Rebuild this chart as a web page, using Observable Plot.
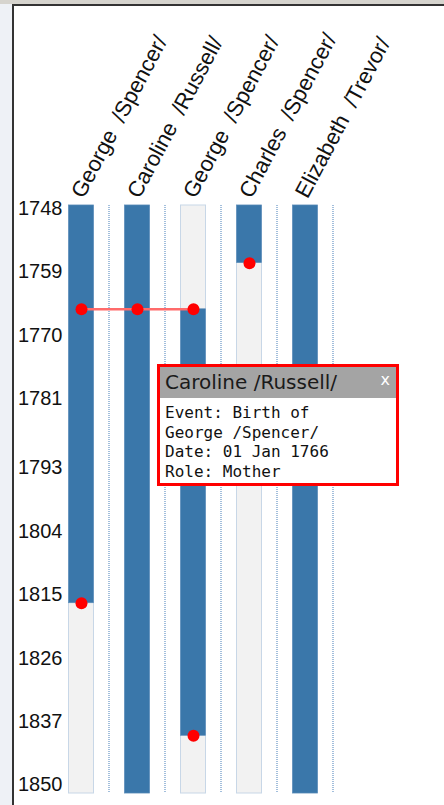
<!DOCTYPE html>
<html><head><meta charset="utf-8">
<script src="https://cdn.jsdelivr.net/npm/d3@7"></script>
<script src="https://cdn.jsdelivr.net/npm/@observablehq/plot@0.6"></script>
<style>
html,body{margin:0;padding:0;width:444px;height:805px;overflow:hidden;background:#eef1f6;}
#topstrip{position:absolute;left:0;top:0;width:444px;height:4px;background:#d6d4ce;}
#frame{position:absolute;left:12px;top:4px;width:430px;height:801px;border-left:2px solid #333;border-top:2px solid #333;background:#fff;}
#chart{position:absolute;left:0;top:0;}
#chart text{white-space:pre;}
#tip{position:absolute;left:157px;top:364px;width:236px;height:116px;border:3px solid #f00;background:#fff;}
#tip .hd{height:31px;background:#a4a4a4;color:#1a1a1a;font-family:"DejaVu Sans";font-size:20px;line-height:31px;padding-left:5px;position:relative;white-space:nowrap;}
#tip .x{position:absolute;right:6px;top:-3px;color:#fff;font-size:16px;}
#tip .bd{padding:5px 0 0 5px;font-family:"DejaVu Sans Mono";font-size:16px;line-height:19.5px;color:#111;white-space:nowrap;}
</style></head>
<body>
<div id="topstrip"></div>
<div id="frame"></div>
<div id="chart"></div>
<div id="tip"><div class="hd">Caroline /Russell/<span class="x">x</span></div>
<div class="bd">Event: Birth of<br>George /Spencer/<br>Date: 01 Jan 1766<br>Role: Mother</div></div>
<script>
const people = ["George  /Spencer/", "Caroline  /Russell/", "George  /Spencer/", "Charles  /Spencer/", "Elizabeth  /Trevor/"];
const lifeStart = [1748, 1748, 1766, 1748, 1748];
const lifeEnd = [1817, 1850, 1840, 1758, 1850];
const eventCol = [0, 1, 2, 0, 2, 3];
const eventYear = [1766, 1766, 1766, 1817, 1840, 1758];
const linkFrom = [0], linkTo = [2], linkYear = [1766];
const tickLabels = [1748, 1759, 1770, 1781, 1793, 1804, 1815, 1826, 1837, 1850];
const yearRange = [1748, 1850];

const cols = people.map((_, i) => i);
const events = eventCol.map((_, i) => i);
const links = linkFrom.map((_, i) => i);

const chart = Plot.plot({
  width: 444,
  height: 805,
  marginLeft: 53,
  marginRight: 111,
  marginTop: 205,
  marginBottom: 12,
  style: {background: "transparent", fontFamily: "Liberation Sans, Arial, sans-serif", overflow: "visible"},
  x: {type: "band", domain: cols, padding: 0, axis: null},
  y: {domain: yearRange, range: [205, 793], axis: null},
  marks: [
    Plot.ruleX(cols, {x: d => d, y1: yearRange[0], y2: yearRange[1], dx: 27.5, stroke: "#a3bfdc", strokeWidth: 2, strokeDasharray: "1,1"}),
    Plot.barY(cols, {x: d => d, y1: yearRange[0], y2: yearRange[1], insetLeft: 15.5, insetRight: 15.5, fill: "#f2f2f2", stroke: "#c8d7e7", strokeWidth: 1}),
    Plot.barY(cols, {x: d => d, y1: d => lifeStart[d], y2: d => lifeEnd[d], insetLeft: 15.5, insetRight: 15.5, fill: "#3a77aa", stroke: "#5b8dba", strokeWidth: 0.6}),
    Plot.link(links, {x1: d => linkFrom[d], x2: d => linkTo[d], y1: d => linkYear[d], y2: d => linkYear[d], stroke: "#ff6b6b", strokeWidth: 2.5}),
    Plot.dot(events, {x: d => eventCol[d], y: d => eventYear[d], r: 6, fill: "#ff0000", stroke: "none"}),
    Plot.text(tickLabels.slice(0, -1), {y: d => d, text: d => String(d), frameAnchor: "left", textAnchor: "end", dx: 9, dy: 3, fontSize: 20, fill: "#111"}),
    Plot.text(tickLabels.slice(-1), {y: d => d, text: d => String(d), frameAnchor: "left", textAnchor: "end", lineAnchor: "bottom", dx: 9, dy: -3, fontSize: 20, fill: "#111"}),
    Plot.text(cols, {x: d => d, text: d => people[d], frameAnchor: "top", textAnchor: "start", lineAnchor: "bottom", rotate: -62, dx: 2, dy: -6, fontSize: 22, fill: "#111"})
  ]
});
document.getElementById("chart").appendChild(chart);
</script>
</body></html>
